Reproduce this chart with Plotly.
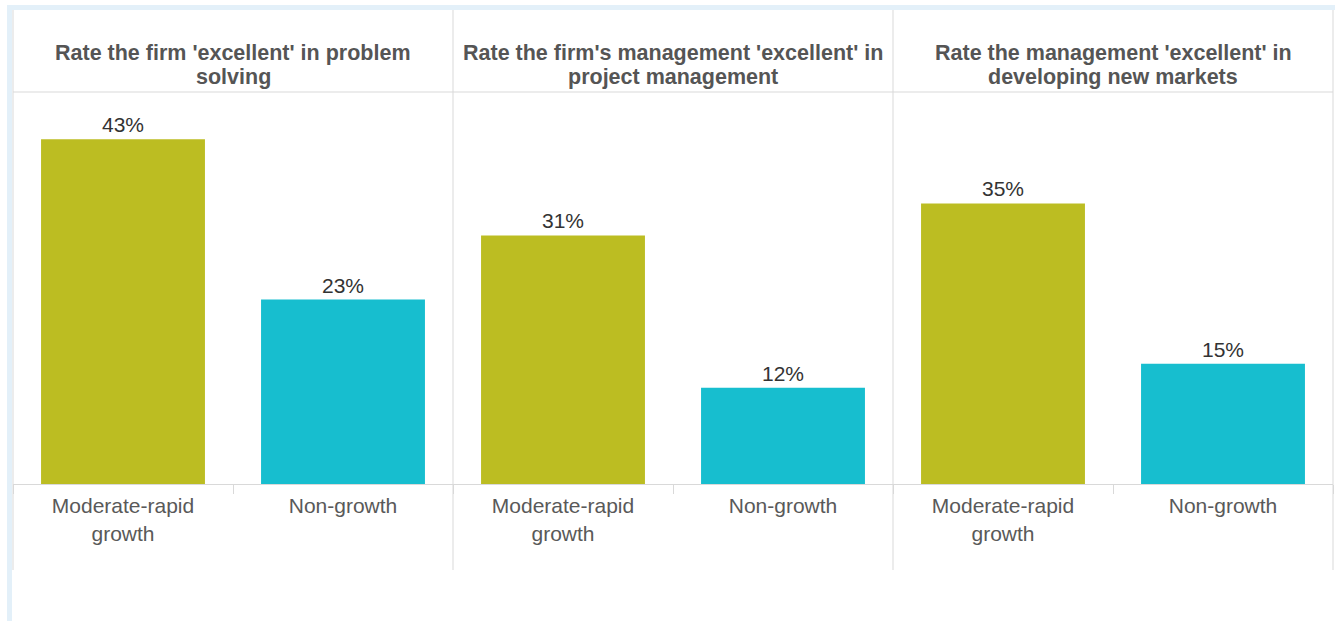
import plotly.graph_objects as go
from plotly.subplots import make_subplots

# data
panel_titles = [
    ["Rate the firm 'excellent' in problem", "solving"],
    ["Rate the firm's management 'excellent' in", "project management"],
    ["Rate the management 'excellent' in", "developing new markets"],
]
groups = ["Moderate-rapid<br>growth", "Non-growth"]
group_colors = ["#bcbd22", "#17becf"]
values = [
    [43, 23],
    [31, 12],
    [35, 15],
]

W, H = 1335, 621
L, R, T, B = 13, 1333, 92, 484  # plot area in pixels
FONT = "Liberation Sans, Arial, sans-serif"
GRID = "#d9d9d9"


def px_x(px):
    return (px - L) / (R - L)


def px_y(py):
    return (B - py) / (B - T)


fig = make_subplots(rows=1, cols=3, horizontal_spacing=0, shared_yaxes=True)

for i, vals in enumerate(values):
    fig.add_trace(go.Bar(
        x=groups,
        y=vals,
        marker=dict(color=group_colors, line=dict(width=0)),
        text=[f"{v}%" for v in vals],
        textposition="outside",
        textfont=dict(family=FONT, size=21, color="#333333"),
        cliponaxis=False,
        showlegend=False,
        hoverinfo="skip",
    ), row=1, col=i + 1)

    # two header lines, placed one by one for tight line spacing
    for line_text, yc in zip(panel_titles[i], [53, 77]):
        fig.add_annotation(
            text=f"<b>{line_text}</b>",
            xref="paper", yref="paper",
            x=(i + 0.5) / 3, y=px_y(yc),
            xanchor="center", yanchor="middle",
            showarrow=False,
            font=dict(family=FONT, size=21.5, color="#555555"),
        )

fig.update_xaxes(
    type="category",
    showline=True, linecolor=GRID, linewidth=1,
    ticks="outside", tickson="boundaries", ticklen=9, tickcolor=GRID,
    ticklabelstandoff=3,
    tickfont=dict(family=FONT, size=21, color="#595959"),
    showgrid=False, zeroline=False, fixedrange=True,
)
fig.update_yaxes(
    range=[0, 48.9], visible=False, showgrid=False, zeroline=False, fixedrange=True,
)

shapes = []
# light blue frame on top and left
shapes.append(dict(type="rect", xref="paper", yref="paper",
                   x0=px_x(7), x1=px_x(W + 5), y0=px_y(10), y1=px_y(5),
                   fillcolor="#e3f0f9", line=dict(width=0), layer="below"))
shapes.append(dict(type="rect", xref="paper", yref="paper",
                   x0=px_x(7), x1=px_x(12), y0=px_y(H + 5), y1=px_y(5),
                   fillcolor="#e3f0f9", line=dict(width=0), layer="below"))
# panel dividers
for xp in [L, 453, 893, R]:
    shapes.append(dict(type="line", xref="paper", yref="paper",
                       x0=px_x(xp), x1=px_x(xp), y0=px_y(10), y1=px_y(570),
                       line=dict(color=GRID, width=1)))
# header separator
shapes.append(dict(type="line", xref="paper", yref="paper",
                   x0=0, x1=1, y0=1, y1=1, line=dict(color=GRID, width=1)))

fig.update_layout(
    width=W, height=H,
    margin=dict(l=L, r=W - R, t=T, b=H - B),
    bargap=0.255,
    plot_bgcolor="white", paper_bgcolor="white",
    shapes=shapes,
    font=dict(family=FONT),
)

# drop the default page margin so the figure sits at the window's corner
fig.write_html("out.html", config={"displayModeBar": False},
               post_script="document.body.style.margin='0';")
